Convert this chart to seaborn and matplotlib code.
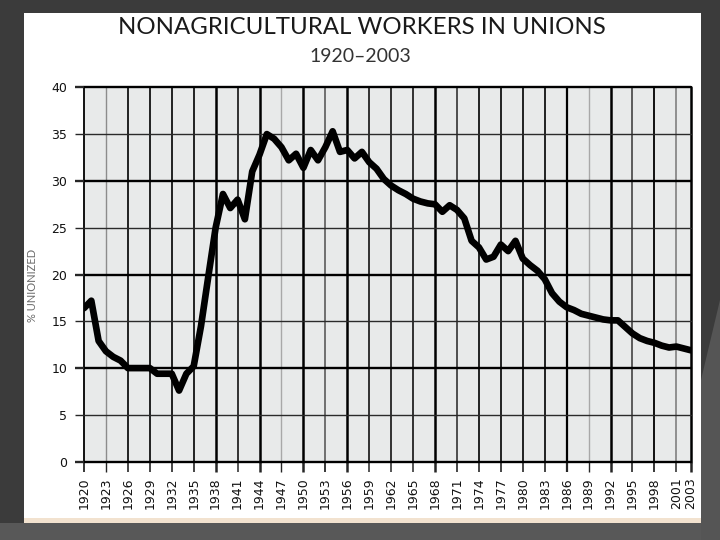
import matplotlib
matplotlib.use("Agg")
import matplotlib.pyplot as plt
from matplotlib.patches import Rectangle, Polygon
import seaborn as sns
import pandas as pd


# data (% of nonagricultural workers in unions)
years = list(range(1920, 2004))
unionized = [
    16.4, 17.2, 12.9, 11.8, 11.2, 10.8, 10.0, 10.0, 10.0, 10.0,   # 1920-29
    9.4, 9.4, 9.4, 7.6, 9.4, 10.2, 14.5, 19.8, 25.0, 28.6,       # 1930-39
    27.1, 28.0, 25.9, 31.0, 32.8, 35.0, 34.5, 33.6, 32.2, 32.9,  # 1940-49
    31.4, 33.3, 32.2, 33.6, 35.3, 33.1, 33.3, 32.4, 33.1, 32.0,  # 1950-59
    31.3, 30.2, 29.5, 29.0, 28.6, 28.1, 27.8, 27.6, 27.5, 26.7,  # 1960-69
    27.4, 26.9, 26.0, 23.6, 22.9, 21.6, 21.9, 23.2, 22.5, 23.6,  # 1970-79
    21.7, 21.0, 20.4, 19.5, 18.0, 17.1, 16.5, 16.2, 15.8, 15.6,  # 1980-89
    15.4, 15.2, 15.1, 15.1, 14.4, 13.7, 13.2, 12.9, 12.7, 12.4,  # 1990-99
    12.2, 12.3, 12.1, 11.9,                                      # 2000-03
]
x_ticks = [1920, 1923, 1926, 1929, 1932, 1935, 1938, 1941, 1944, 1947,
           1950, 1953, 1956, 1959, 1962, 1965, 1968, 1971, 1974, 1977,
           1980, 1983, 1986, 1989, 1992, 1995, 1998, 2001, 2003]
y_ticks = [0, 5, 10, 15, 20, 25, 30, 35, 40]

df = pd.DataFrame({"year": years, "pct": unionized})

# look of the scanned grid: each vertical line a bit different
vline_color = ["black", "#8c8c8c", "black", "black", "black", "black", "black", "black", "black", "#a8a8a8",
               "black", "#666666", "black", "black", "black", "black", "black", "#333333", "black", "black",
               "black", "black", "black", "#a8a8a8", "black", "#444444", "black", "#777777", "black"]
vline_width = [1.3, 1.0, 1.2, 1.2, 1.2, 1.2, 1.8, 1.1, 1.8, 1.0,
               1.8, 1.3, 1.8, 1.1, 1.1, 1.1, 1.8, 1.2, 1.2, 1.2,
               1.2, 1.2, 1.6, 1.0, 1.8, 1.2, 1.3, 1.1, 1.8]

sns.set_style("white")
plt.rcParams["font.family"] = ["Lato", "DejaVu Sans"]

fig = plt.figure(figsize=(7.2, 5.4), dpi=100, facecolor="#3b3b3b")

# slide background pieces
W, H = 720.0, 540.0
fig.patches.append(Rectangle((0, 0), 1, 17 / H, transform=fig.transFigure,
                             facecolor="#585858", edgecolor="none", zorder=0))
fig.patches.append(Polygon([(701 / W, 1 - 380 / H), (1, 1 - 300 / H), (1, 0), (701 / W, 0)],
                           closed=True, transform=fig.transFigure,
                           facecolor="#555555", edgecolor="none", zorder=0))
fig.patches.append(Rectangle((24 / W, 1 - 523 / H), 677 / W, 510 / H, transform=fig.transFigure,
                             facecolor="white", edgecolor="none", zorder=1))
fig.patches.append(Rectangle((24 / W, 1 - 523 / H), 677 / W, 5 / H, transform=fig.transFigure,
                             facecolor="#f2e2cf", edgecolor="none", zorder=1))

ax = fig.add_axes([84 / W, 1 - 461.7 / H, 607 / W, 374.4 / H])
ax.set_zorder(3)
ax.set_facecolor("#e8eaea")

sns.lineplot(data=df, x="year", y="pct", color="black", linewidth=4.8, ax=ax, zorder=5)

ax.set_xlim(1920, 2003)
ax.set_ylim(0, 40)
ax.set_xticks(x_ticks)
ax.set_yticks(y_ticks)
ax.set_xticklabels([str(y) for y in x_ticks], rotation=90)
ax.set_yticklabels([str(v) for v in y_ticks])
for s in ax.spines.values():
    s.set_visible(False)

ax.grid(True)
ax.tick_params(axis="x", direction="out", length=7.2, pad=4.3, labelsize=9, bottom=True)
ax.tick_params(axis="y", direction="out", length=6.5, pad=5.5, labelsize=9, left=True)

for tick, c, lw in zip(ax.xaxis.get_major_ticks(), vline_color, vline_width):
    tick.gridline.set_color(c)
    tick.gridline.set_linewidth(lw)
    tick.gridline.set_clip_on(False)
    tick.tick1line.set_color(c)
    tick.tick1line.set_markeredgewidth(lw)
for tick, v in zip(ax.yaxis.get_major_ticks(), y_ticks):
    lw = 1.7 if v % 10 == 0 else 1.0
    c = "black" if v % 10 == 0 else "#2a2a2a"
    tick.gridline.set_color(c)
    tick.gridline.set_linewidth(lw)
    tick.gridline.set_clip_on(False)
    tick.tick1line.set_color(c)
    tick.tick1line.set_markeredgewidth(lw)

for lab in ax.get_xticklabels() + ax.get_yticklabels():
    lab.set_family(["Liberation Sans Narrow", "DejaVu Sans"])
    lab.set_color("#111111")

ax.set_xlabel("")
ax.set_ylabel("")
fig.text(33 / W, 1 - 285 / H, "% UNIONIZED", rotation=90, ha="center", va="center",
         fontsize=8, color="#6a6a6a", zorder=4)

fig.text(362 / W, 1 - 27 / H, "NONAGRICULTURAL WORKERS IN UNIONS", ha="center", va="center",
         fontsize=17.3, color="#1a1a1a", zorder=4)
fig.text(360 / W, 1 - 57 / H, "1920\u20132003", ha="center", va="center",
         fontsize=14, color="#333333", zorder=4)

fig.savefig("out.png", dpi=100, facecolor=fig.get_facecolor())
